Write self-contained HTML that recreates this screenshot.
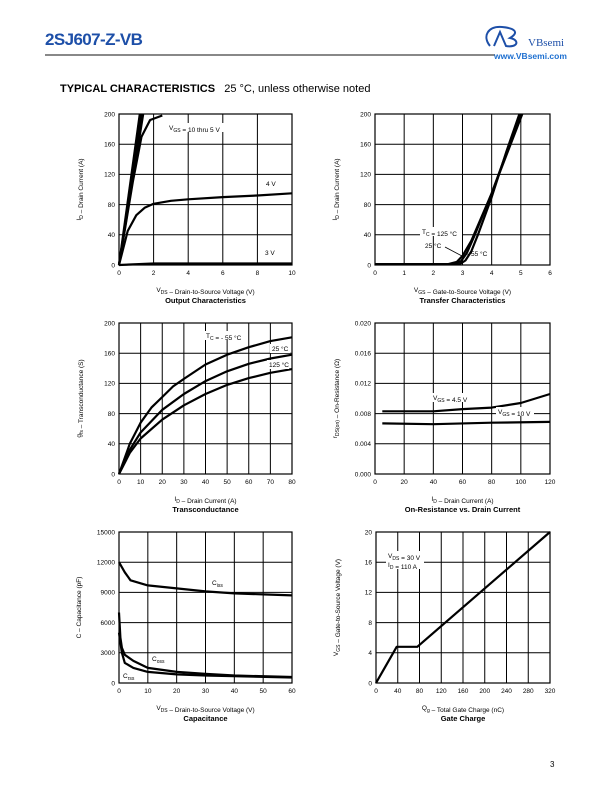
<!DOCTYPE html>
<html><head><meta charset="utf-8"><style>
body{margin:0;background:#fff;width:612px;height:792px;position:relative;overflow:hidden;font-family:"Liberation Sans",sans-serif}
.abs{position:absolute}
</style></head><body>
<div class="abs" style="left:45px;top:30px;font-size:17px;font-weight:bold;color:#1d4fa8;letter-spacing:-0.6px">2SJ607-Z-VB</div>
<div class="abs" style="left:45px;top:54px;width:450px;height:2px;background:#888"></div>
<svg class="abs" style="left:480px;top:22px" width="92" height="28"><path d="M10 24 C2 14 8 4 22 5 C34 6 40 10 30 16 C40 18 38 26 26 24 L20 10 L14 24" fill="none" stroke="#1d4fa8" stroke-width="2"/><text x="48" y="24" font-family="Liberation Serif" font-size="11" fill="#1d4fa8">VBsemi</text></svg>
<div class="abs" style="left:494px;top:51px;font-size:8.5px;font-weight:bold;color:#1d6fd0">www.VBsemi.com</div>
<div class="abs" style="left:60px;top:83px;font-size:11px;"><b>TYPICAL CHARACTERISTICS</b>&nbsp;&nbsp; 25 °C, unless otherwise noted</div>
<div class="abs" style="left:550px;top:760px;font-size:8px">3</div>
<svg id="s" class="abs" style="left:0;top:0" width="612" height="792"></svg>
<script>
// Chart 1 output
const c1x=[0,2,4,6,8,10], c1y=[0,40,80,120,160,200];
const c1a=[[0,0],[1.3,200]], c1b=[[0,0],[1.4,200]], c1c=[[0,0],[1.2,200]];
const c1d=[[0,0],[0.8,110],[1.3,170],[1.8,192],[2.5,198]];
const c1v4=[[0,0],[0.5,45],[1,66],[1.5,76],[2,81],[3,85],[4,87],[6,90],[8,92],[10,95]];
const c1v3=[[0,0],[2,2],[6,2],[10,2]];
// Chart 2 transfer
const c2x=[0,1,2,3,4,5,6], c2y=[0,40,80,120,160,200];
const c2t125=[[0,1],[2.5,1],[2.8,4],[3,12],[3.3,32],[4,95],[4.5,145],[5.05,200]];
const c2t25=[[0,1],[2.7,1],[2.95,5],[3.15,16],[3.4,38],[4,95],[4.5,148],[5,200]];
const c2tm55=[[0,1],[2.9,1],[3.1,6],[3.3,18],[3.55,42],[4,90],[4.5,150],[4.95,200]];
// Chart 3 transconductance
const c3x=[0,10,20,30,40,50,60,70,80], c3y=[0,40,80,120,160,200];
const c3m55=[[0,0],[5,40],[10,68],[15,88],[20,102],[25,116],[30,126],[40,145],[50,158],[60,168],[70,176],[80,181]];
const c3p25=[[0,0],[5,32],[10,55],[20,85],[30,106],[40,123],[50,136],[60,146],[70,153],[80,158]];
const c3p125=[[0,0],[5,28],[10,47],[20,72],[30,91],[40,106],[50,118],[60,127],[70,134],[80,139]];
// Chart 4 on-resistance
const c4x=[0,20,40,60,80,100,120], c4y=[0,0.004,0.008,0.012,0.016,0.020];
const c4v45=[[5,0.0083],[20,0.0083],[40,0.0083],[60,0.0086],[80,0.0088],[100,0.0094],[120,0.0106]];
const c4v10=[[5,0.0067],[40,0.0066],[80,0.0068],[120,0.0069]];
// Chart 5 capacitance
const c5x=[0,10,20,30,40,50,60], c5y=[0,3000,6000,9000,12000,15000];
const c5ciss=[[0,12000],[2,11000],[4,10200],[10,9700],[20,9400],[30,9100],[40,8900],[50,8800],[60,8700]];
const c5coss=[[0,7000],[0.5,4500],[1,3500],[2,2800],[5,2200],[10,1500],[20,1100],[30,900],[40,750],[60,600]];
const c5crss=[[0,5000],[1,3000],[2,2000],[5,1500],[10,1100],[20,850],[30,750],[60,550]];
// Chart 6 gate charge
const c6x=[0,40,80,120,160,200,240,280,320], c6y=[0,4,8,12,16,20];
const c6vgs=[[0,0],[38,4.8],[76,4.8],[320,20]];

const S=document.getElementById('s'),NS='http://www.w3.org/2000/svg';
function el(t,a,p){const e=document.createElementNS(NS,t);for(const k in a)e.setAttribute(k,a[k]);(p||S).appendChild(e);return e;}
function txt(x,y,s,o,p){const e=el('text',Object.assign({x:x,y:y,'font-size':6.5,'font-family':'Liberation Sans, sans-serif',fill:'#000'},o||{}),p);e.innerHTML=s;return e;}
function chart(name,L,T,R,B,xt,yt,xl,yl,title,fmtY){
  const g=el('g',{});
  
  
  const x0=xt[0],x1=xt[xt.length-1],y0=yt[0],y1=yt[yt.length-1];
  const X=v=>L+(v-x0)/(x1-x0)*(R-L), Y=v=>B-(v-y0)/(y1-y0)*(B-T);
  xt.forEach(v=>{el('line',{x1:X(v),x2:X(v),y1:T,y2:B,stroke:'#000','stroke-width':1},g);const t=txt(X(v),B+10,String(v),{'text-anchor':'middle'},g);});
  yt.forEach(v=>{el('line',{x1:L,x2:R,y1:Y(v),y2:Y(v),stroke:'#000','stroke-width':1},g);const t=txt(L-4,Y(v)+2.3,fmtY?fmtY(v):String(v),{'text-anchor':'end'},g);});
  el('rect',{x:L,y:T,width:R-L,height:B-T,fill:'none',stroke:'#000','stroke-width':1.2},g);
  const xa=txt((L+R)/2,B+27,xl,{'text-anchor':'middle'},g);
  
  
  const ya=txt(0,0,yl,{'text-anchor':'middle',transform:`translate(${L-38},${(T+B)/2}) rotate(-90)`},g);
  
  
  const tt=txt((L+R)/2,B+38,title,{'text-anchor':'middle','font-weight':'bold','font-size':7.5},g);
  
  
  return {g,X,Y,L,T,R,B};
}
function line(c,d,name){
  const p=el('polyline',{points:d.map(q=>c.X(q[0]).toFixed(1)+','+c.Y(q[1]).toFixed(1)).join(' '),fill:'none',stroke:'#000','stroke-width':2.2,'stroke-linejoin':'round'},c.g);
  
  
}
function lab(c,x,y,s,name,bg){
  if(bg) el('rect',{x:x-2,y:y-7,width:bg,height:9,fill:'#fff'},c.g);
  const t=txt(x,y,s,{},c.g);
  
  
}
const sub=s=>`<tspan font-size="5" dy="2">${s}</tspan><tspan dy="-2"></tspan>`;
let c=chart('output-characteristics-chart',119,114,292,265,c1x,c1y,'V'+sub('DS')+'  –  Drain-to-Source Voltage (V)','I'+sub('D')+'  –  Drain Current (A)','Output Characteristics');
line(c,c1a,'vgs-10v-line');line(c,c1b,'vgs-7v-line');line(c,c1c,'vgs-6v-line');line(c,c1d,'vgs-5v-line');line(c,c1v4,'vgs-4v-line');line(c,c1v3,'vgs-3v-line');
lab(c,169,130,'V'+sub('GS')+' = 10 thru 5 V','legend-vgs-range',58);lab(c,266,186,'4 V','legend-4v');lab(c,265,255,'3 V','legend-3v');
c=chart('transfer-characteristics-chart',375,114,550,265,c2x,c2y,'V'+sub('GS')+'  –  Gate-to-Source Voltage (V)','I'+sub('D')+'  –  Drain Current (A)','Transfer Characteristics');
line(c,c2t125,'tc-125c-line');line(c,c2t25,'tc-25c-line');line(c,c2tm55,'tc-minus55c-line');
lab(c,422,234,'T'+sub('C')+' = 125 °C','legend-125c',42);lab(c,425,248,'25 °C','legend-25c');lab(c,467,256,'- 55 °C','legend-minus55c');
el('line',{x1:445,y1:247,x2:462,y2:256,stroke:'#000','stroke-width':0.8},c.g);
c=chart('transconductance-chart',119,323,292,474,c3x,c3y,'I'+sub('D')+' – Drain Current (A)','g'+sub('fs')+' – Transconductance (S)','Transconductance');
line(c,c3m55,'tc-minus55c-line');line(c,c3p25,'tc-25c-line');line(c,c3p125,'tc-125c-line');
lab(c,206,338,'T'+sub('C')+' = - 55 °C','legend-minus55c',44);lab(c,272,351,'25 °C','legend-25c',20);lab(c,269,367,'125 °C','legend-125c',22);
c=chart('on-resistance-chart',375,323,550,474,c4x,c4y,'I'+sub('D')+'  –  Drain Current (A)','r'+sub('DS(on)')+'  –  On-Resistance (Ω)','On-Resistance vs. Drain Current',v=>v.toFixed(3));
line(c,c4v45,'vgs-4v5-line');line(c,c4v10,'vgs-10v-line');
lab(c,433,400,'V'+sub('GS')+' = 4.5 V','legend-4v5',40);lab(c,498,414,'V'+sub('GS')+' = 10 V','legend-10v',38);
c=chart('capacitance-chart',119,532,292,683,c5x,c5y,'V'+sub('DS')+'  –  Drain-to-Source Voltage (V)','C  –  Capacitance (pF)','Capacitance');
line(c,c5ciss,'ciss-line');line(c,c5coss,'coss-line');line(c,c5crss,'crss-line');
lab(c,212,585,'C'+sub('iss'),'legend-ciss');lab(c,152,661,'C'+sub('oss'),'legend-coss');lab(c,123,678,'C'+sub('rss'),'legend-crss');
c=chart('gate-charge-chart',376,532,550,683,c6x,c6y,'Q'+sub('g')+'  –  Total Gate Charge (nC)','V'+sub('GS')+'  –  Gate-to-Source Voltage (V)','Gate Charge');
line(c,c6vgs,'vgs-line');
lab(c,388,558,'V'+sub('DS')+' = 30 V','legend-vds',38);lab(c,388,567,'I'+sub('D')+' = 110 A','legend-id',38);
</script>
</body></html>
